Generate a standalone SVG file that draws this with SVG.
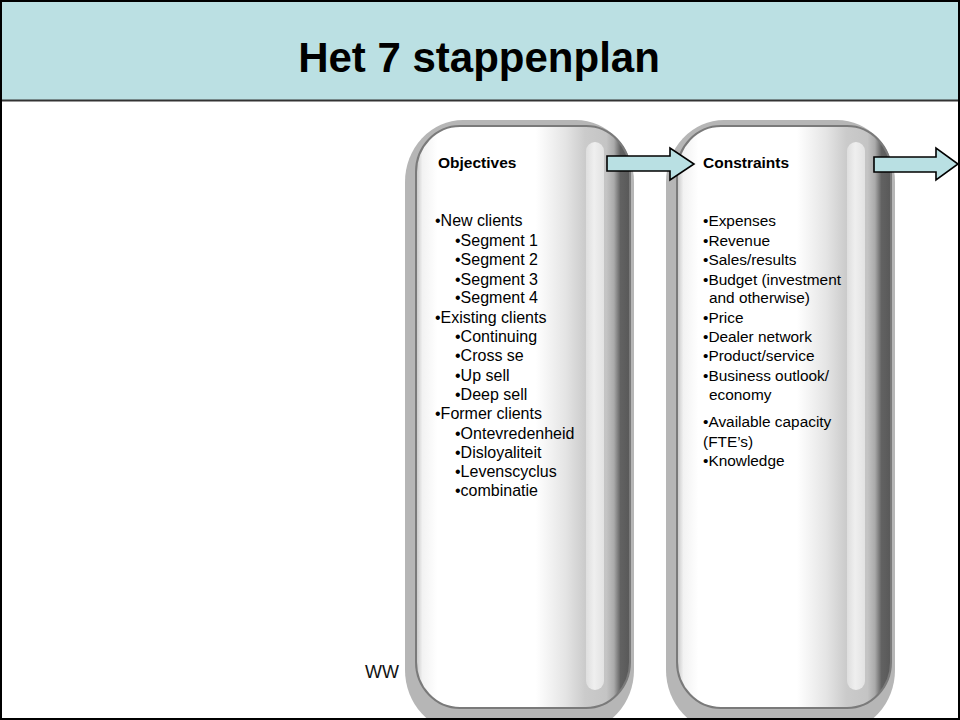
<svg xmlns="http://www.w3.org/2000/svg" xmlns:xlink="http://www.w3.org/1999/xlink" width="960" height="720" viewBox="0 0 960 720">
  <style>
    .title { font-family: "Liberation Sans", Arial, sans-serif; font-weight: bold; font-size: 42px; fill: #000; }
    .head { font-family: "Liberation Sans", Arial, sans-serif; font-weight: bold; font-size: 15.5px; fill: #000; }
    .item { font-family: "Liberation Sans", Arial, sans-serif; font-size: 16px; fill: #000; }
    .item2 { font-family: "Liberation Sans", Arial, sans-serif; font-size: 15.4px; fill: #000; }
    .ww { font-family: "Liberation Sans", Arial, sans-serif; font-size: 18px; fill: #111; }
    .arrow { fill: #B9E0E3; stroke: #000; stroke-width: 1.6; stroke-linejoin: miter; }
  </style>
  <defs>
    <linearGradient id="pg" x1="0" y1="0" x2="1" y2="0">
      <stop offset="0" stop-color="#c4c4c4"/>
      <stop offset="0.03" stop-color="#f2f2f2"/>
      <stop offset="0.10" stop-color="#ffffff"/>
      <stop offset="0.56" stop-color="#ffffff"/>
      <stop offset="0.70" stop-color="#e4e4e4"/>
      <stop offset="0.79" stop-color="#cbcbcb"/>
      <stop offset="0.89" stop-color="#c4c4c4"/>
      <stop offset="0.925" stop-color="#aaaaaa"/>
      <stop offset="0.955" stop-color="#626262"/>
      <stop offset="1" stop-color="#585858"/>
    </linearGradient>
    <linearGradient id="hl" x1="0" y1="0" x2="1" y2="0">
      <stop offset="0" stop-color="#dedede"/>
      <stop offset="0.45" stop-color="#efefef"/>
      <stop offset="1" stop-color="#e2e2e2"/>
    </linearGradient>
    <g id="panel">
      <rect x="405" y="120" width="229" height="612" rx="58" ry="62" fill="#b6b6b6"/>
      <rect x="416" y="126" width="214" height="582" rx="44" ry="46" fill="url(#pg)" stroke="#7a7a7a" stroke-width="2"/>
      <rect x="586" y="142" width="18" height="548" rx="9" fill="url(#hl)"/>
    </g>
  </defs>

  <rect x="0" y="0" width="960" height="720" fill="#ffffff"/>

  <g id="header">
    <rect x="0" y="0" width="960" height="100" fill="#BBE0E3"/>
    <line x1="0" y1="100.5" x2="960" y2="100.5" stroke="#333333" stroke-width="2"/>
    <text class="title" x="479" y="72" text-anchor="middle">Het 7 stappenplan</text>
  </g>

  <g id="footer-text">
    <text class="ww" x="365" y="678">WW</text>
  </g>

  <g id="objectives">
    <use xlink:href="#panel" href="#panel"/>
    <text class="head" x="438" y="168">Objectives</text>
    <text class="item" x="435" y="226">•New clients</text>
    <text class="item" x="455" y="245.5">•Segment 1</text>
    <text class="item" x="455" y="265">•Segment 2</text>
    <text class="item" x="455" y="284.5">•Segment 3</text>
    <text class="item" x="455" y="303">•Segment 4</text>
    <text class="item" x="435" y="322.5">•Existing clients</text>
    <text class="item" x="455" y="342">•Continuing</text>
    <text class="item" x="455" y="361">•Cross se</text>
    <text class="item" x="455" y="381">•Up sell</text>
    <text class="item" x="455" y="399.5">•Deep sell</text>
    <text class="item" x="435" y="419">•Former clients</text>
    <text class="item" x="455" y="438.5">•Ontevredenheid</text>
    <text class="item" x="455" y="457.5">•Disloyaliteit</text>
    <text class="item" x="455" y="477">•Levenscyclus</text>
    <text class="item" x="455" y="496">•combinatie</text>
  </g>

  <g id="constraints">
    <use xlink:href="#panel" href="#panel" transform="translate(261 0)"/>
    <text class="head" x="703" y="168">Constraints</text>
    <text class="item2" x="703" y="226">•Expenses</text>
    <text class="item2" x="703" y="245.5">•Revenue</text>
    <text class="item2" x="703" y="265">•Sales/results</text>
    <text class="item2" x="703" y="284.5">•Budget (investment</text>
    <text class="item2" x="709" y="303">and otherwise)</text>
    <text class="item2" x="703" y="322.5">•Price</text>
    <text class="item2" x="703" y="342">•Dealer network</text>
    <text class="item2" x="703" y="361">•Product/service</text>
    <text class="item2" x="703" y="381">•Business outlook/</text>
    <text class="item2" x="709" y="399.5">economy</text>
    <text class="item2" x="703" y="427">•Available capacity</text>
    <text class="item2" x="703" y="446.5">(FTE’s)</text>
    <text class="item2" x="703" y="466">•Knowledge</text>
  </g>

  <g id="connectors">
    <polygon class="arrow" points="607,156 670,156 670,148 694,164 670,180 670,171 607,171"/>
    <polygon class="arrow" points="874,157 936,157 936,148 958,164 936,180 936,172 874,172"/>
  </g>

  <rect x="1" y="1" width="958" height="718" fill="none" stroke="#000000" stroke-width="2"/>
</svg>
